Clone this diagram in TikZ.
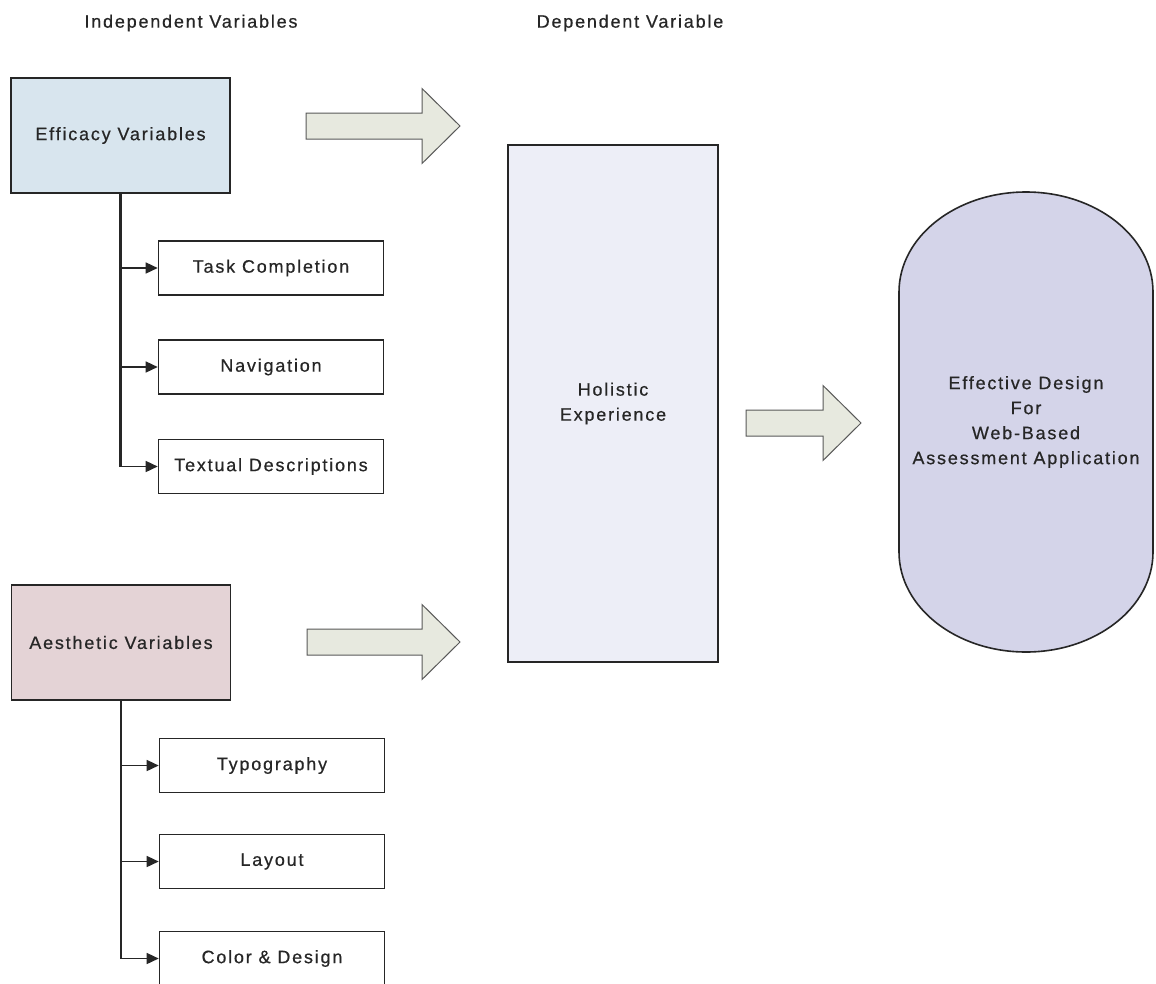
\documentclass[tikz,border=0pt]{standalone}
\usepackage{fontspec}
\setmainfont{Liberation Sans}[LetterSpace=10, FakeBold=0.6]
\usetikzlibrary{arrows.meta}

\definecolor{effblue}{HTML}{D8E5EE}
\definecolor{aesrose}{HTML}{E4D3D6}
\definecolor{holgrey}{HTML}{EDEEF7}
\definecolor{pilllav}{HTML}{D4D4E9}
\definecolor{fatfill}{HTML}{E7E9DF}
\definecolor{inkgrey}{HTML}{262626}

\tikzset{
  box/.style={draw=inkgrey, line width=1.6pt, inner sep=0pt},
  varbox/.style={box, minimum width=219pt, minimum height=115pt},
  itembox/.style={box, minimum width=225pt, minimum height=54pt},
  trunk/.style={draw=inkgrey, line width=2.2pt},
  branch/.style={draw=inkgrey, line width=1.5pt, -{Triangle[length=12pt,width=11pt]}},
  fatarrow/.style={draw=gray!70!black, line width=1pt, fill=fatfill},
}

\begin{document}
\begin{tikzpicture}[x=1pt, y=-1pt, text=inkgrey, font=\fontsize{18}{25}\selectfont]
      \useasboundingbox[fill=white] (0,0) rectangle (1156,983);
      \node (indep) at (191,23) {Independent Variables};
      \node (dep) at (630,23) {Dependent Variable};
      \node[varbox, fill=effblue] (eff) at (120.5,135.5) {Efficacy Variables};
      \node[varbox, fill=aesrose] (aes) at (121,642.5) {Aesthetic Variables};
      \foreach \name/\y/\txt in {task/268/Task Completion, nav/367/Navigation, desc/466.5/Textual Descriptions}{
        \node[itembox] (\name) at (271,\y) {\txt};
        \draw[branch] (eff.south |- \name.west) -- (\name.west);
      }
      \foreach \name/\y/\txt in {typo/765.5/Typography, lay/861.5/Layout, col/958.5/Color \& Design}{
        \node[itembox] (\name) at (272,\y) {\txt};
        \draw[branch] (aes.south |- \name.west) -- (\name.west);
      }
      \draw[trunk] (eff.south) -- (eff.south |- desc.west);
      \draw[trunk] (aes.south) -- (aes.south |- col.west);
      \node[box, fill=holgrey, minimum width=210pt, minimum height=517pt, align=center] (holi) at (613,403.5) {Holistic\\Experience};
      \filldraw[draw=inkgrey, line width=1.6pt, fill=pilllav] (899,292) arc[start angle=180, end angle=360, x radius=127, y radius=100]
        -- (1153,552) arc[start angle=0, end angle=180, x radius=127, y radius=100] -- cycle;
      \node[align=center] (goal) at (1026,422) {Effective Design\\For\\Web-Based\\Assessment Application};
      \foreach \x/\y/\len in {306/126/154, 307/642/153, 746/423/115}{
        \draw[fatarrow] (\x,\y-13) -- ++(\len-38,0) -- ++(0,-24.5) -- ++(38,37.5) -- ++(-38,37.5) -- ++(0,-24.5) -- ++(-\len+38,0) -- cycle;
      }
    \end{tikzpicture}
\end{document}
